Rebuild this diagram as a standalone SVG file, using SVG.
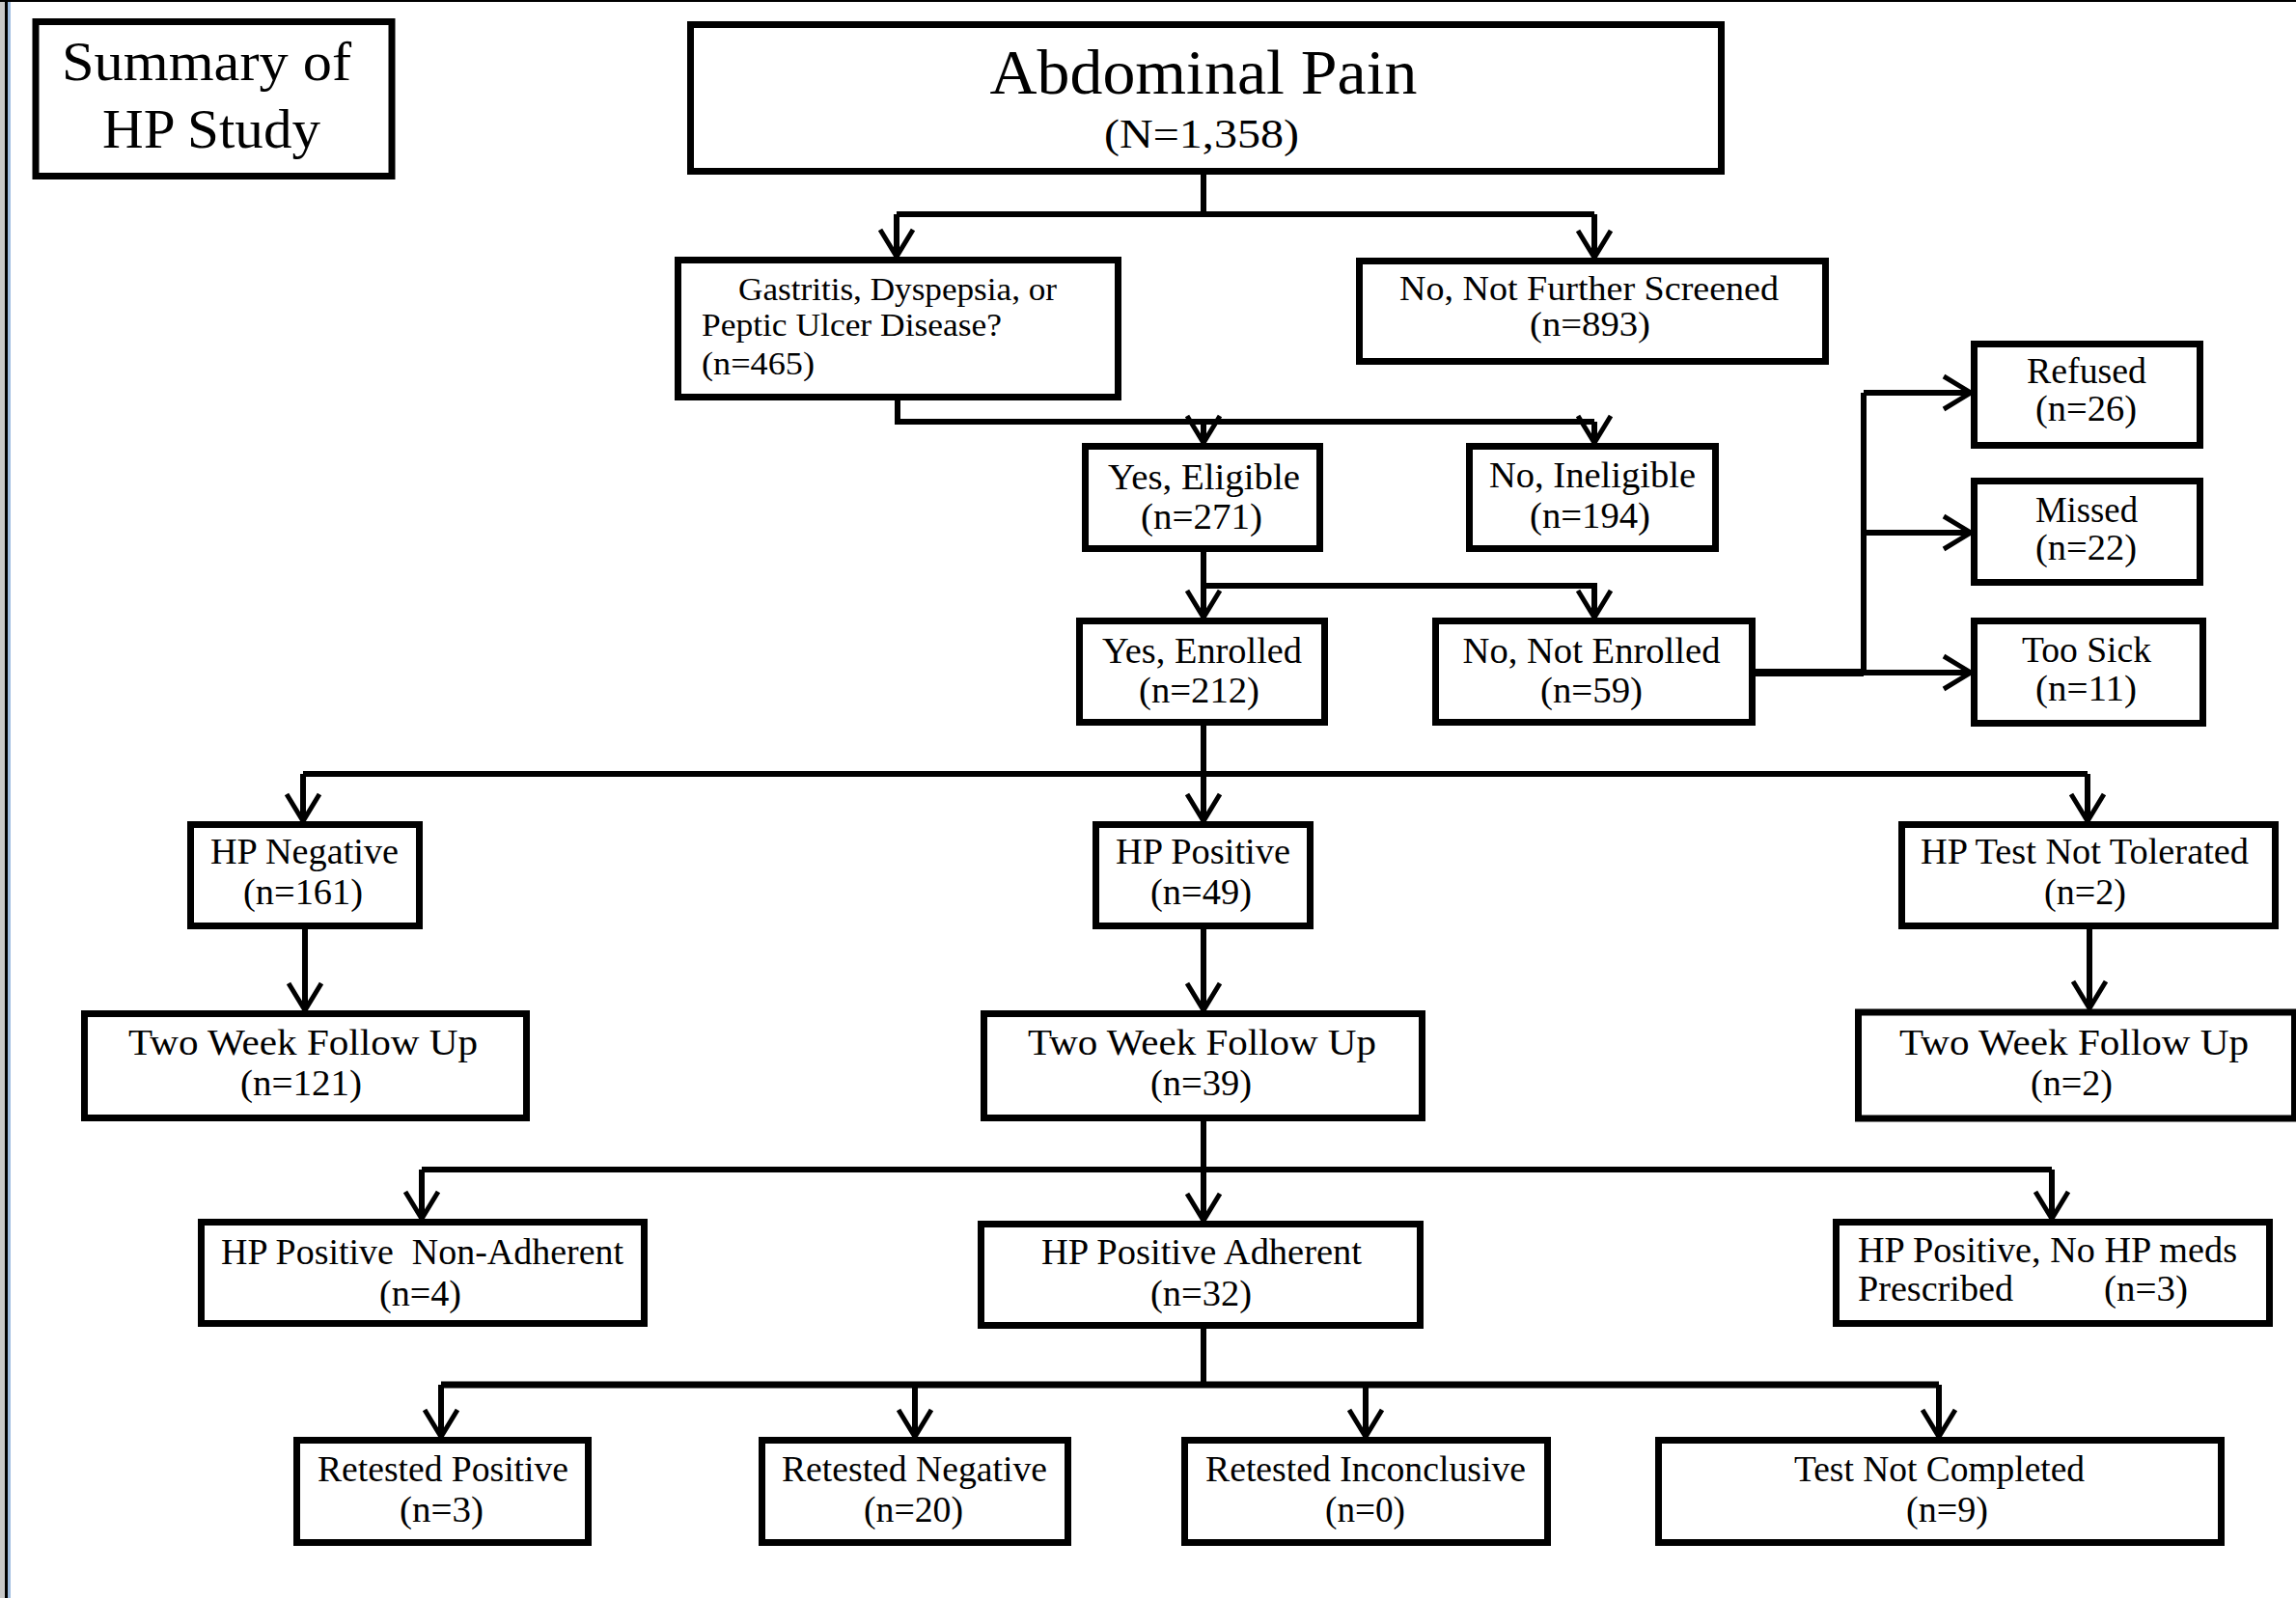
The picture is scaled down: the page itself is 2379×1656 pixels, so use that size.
<svg xmlns="http://www.w3.org/2000/svg" width="2379" height="1656" viewBox="0 0 2379 1656">
<style>
.box{fill:#fff;stroke:#000;stroke-width:7}
.t{font-family:"Liberation Serif","Times New Roman",serif;font-size:38px;fill:#000;text-anchor:middle}
.l{text-anchor:start}
.c{fill:none;stroke:#000;stroke-width:6}
.a{marker-end:url(#ah)}
</style>
<defs>
<marker id="ah" viewBox="-32 -20 36 40" refX="0" refY="0" markerWidth="36" markerHeight="40" markerUnits="userSpaceOnUse" orient="auto" overflow="visible">
<path d="M-28,-17 L0,0 L-28,17" fill="none" stroke="#000" stroke-width="5"/>
</marker>
</defs>
<rect x="0" y="0" width="2379" height="1656" fill="#fff"/>
<rect x="0" y="0" width="5" height="1656" fill="#c8c8c8"/>
<rect x="5" y="0" width="3" height="1656" fill="#000"/>
<rect x="8" y="0" width="3" height="1656" fill="#a0bde0"/>
<rect x="0" y="0" width="2379" height="2" fill="#000"/>

<g id="connectors">
<path class="c" d="M1247,181 V222 M929,222 H1652"/>
<path class="c a" d="M929,222 V266"/>
<path class="c a" d="M1652,222 V267"/>
<path class="c" d="M930,415 V437 H1652"/>
<path class="c a" d="M1247,437 V459"/>
<path class="c a" d="M1652,437 V459"/>
<path class="c a" d="M1247,572 V640"/>
<path class="c a" d="M1247,607 H1652 V640"/>
<path class="c" style="stroke-width:8" d="M1819,697 H1931"/>
<path class="c" d="M1931,407 V697"/>
<path class="c a" d="M1931,407 H2042"/>
<path class="c a" d="M1931,552 H2042"/>
<path class="c a" d="M1931,697 H2042"/>
<path class="c a" d="M1247,752 V851"/>
<path class="c" d="M314,802 H2163"/>
<path class="c a" d="M314,802 V851"/>
<path class="c a" d="M2163,802 V851"/>
<path class="c a" d="M316,963 V1047"/>
<path class="c a" d="M1247,963 V1047"/>
<path class="c a" d="M2165,963 V1045"/>
<path class="c a" d="M1247,1162 V1265"/>
<path class="c" d="M437,1212 H2126"/>
<path class="c a" d="M437,1212 V1263"/>
<path class="c a" d="M2126,1212 V1263"/>
<path class="c" d="M1247,1377 V1435"/>
<path class="c" style="stroke-width:7" d="M457,1435 H2009"/>
<path class="c a" d="M457,1435 V1489"/>
<path class="c a" d="M948,1435 V1489"/>
<path class="c a" d="M1415,1435 V1489"/>
<path class="c a" d="M2009,1435 V1489"/>
</g>

<g id="summary">
<rect class="box" x="37" y="22.5" width="369" height="160"/>
<text class="t" style="font-size:56px" x="214" y="83" textLength="300" lengthAdjust="spacingAndGlyphs">Summary of</text>
<text class="t" style="font-size:56px" x="219" y="153" textLength="226" lengthAdjust="spacingAndGlyphs">HP Study</text>
</g>
<g id="abdominal-pain">
<rect class="box" x="715.5" y="25.5" width="1068" height="152"/>
<text class="t" style="font-size:66px" x="1247" y="97" textLength="443" lengthAdjust="spacingAndGlyphs">Abdominal Pain</text>
<text class="t" style="font-size:42px" x="1245" y="153" textLength="202" lengthAdjust="spacingAndGlyphs">(N=1,358)</text>
</g>
<g id="gastritis">
<rect class="box" x="702.5" y="269.5" width="456" height="142"/>
<text class="t" style="font-size:33px" x="930" y="311" textLength="330" lengthAdjust="spacingAndGlyphs">Gastritis, Dyspepsia, or</text>
<text class="t" style="font-size:33px" x="882.5" y="348" textLength="311" lengthAdjust="spacingAndGlyphs">Peptic Ulcer Disease?</text>
<text class="t" style="font-size:33px" x="785.5" y="388" textLength="117" lengthAdjust="spacingAndGlyphs">(n=465)</text>
</g>
<g id="not-screened">
<rect class="box" x="1408.5" y="270.5" width="483" height="104"/>
<text class="t" style="font-size:35px" x="1646.5" y="311" textLength="393" lengthAdjust="spacingAndGlyphs">No, Not Further Screened</text>
<text class="t" style="font-size:35px" x="1647.5" y="348" textLength="125" lengthAdjust="spacingAndGlyphs">(n=893)</text>
</g>
<g id="eligible">
<rect class="box" x="1124.5" y="462.5" width="243" height="106"/>
<text class="t" x="1247.5" y="507" textLength="199" lengthAdjust="spacingAndGlyphs">Yes, Eligible</text>
<text class="t" x="1245" y="548" textLength="126" lengthAdjust="spacingAndGlyphs">(n=271)</text>
</g>
<g id="ineligible">
<rect class="box" x="1522.5" y="462.5" width="255" height="106"/>
<text class="t" x="1650" y="505" textLength="214" lengthAdjust="spacingAndGlyphs">No, Ineligible</text>
<text class="t" x="1647.5" y="547" textLength="125" lengthAdjust="spacingAndGlyphs">(n=194)</text>
</g>
<g id="enrolled">
<rect class="box" x="1118.5" y="643.5" width="254" height="105"/>
<text class="t" x="1245.5" y="687" textLength="207" lengthAdjust="spacingAndGlyphs">Yes, Enrolled</text>
<text class="t" x="1242.5" y="728" textLength="125" lengthAdjust="spacingAndGlyphs">(n=212)</text>
</g>
<g id="not-enrolled">
<rect class="box" x="1487.5" y="643.5" width="328" height="105"/>
<text class="t" x="1649" y="687" textLength="267" lengthAdjust="spacingAndGlyphs">No, Not Enrolled</text>
<text class="t" x="1649" y="728" textLength="106" lengthAdjust="spacingAndGlyphs">(n=59)</text>
</g>
<g id="refused">
<rect class="box" x="2045.5" y="356.5" width="234" height="105"/>
<text class="t" x="2162" y="397" textLength="124" lengthAdjust="spacingAndGlyphs">Refused</text>
<text class="t" x="2161.5" y="436" textLength="105" lengthAdjust="spacingAndGlyphs">(n=26)</text>
</g>
<g id="missed">
<rect class="box" x="2045.5" y="498.5" width="234" height="105"/>
<text class="t" x="2162" y="541" textLength="106" lengthAdjust="spacingAndGlyphs">Missed</text>
<text class="t" x="2161.5" y="580" textLength="105" lengthAdjust="spacingAndGlyphs">(n=22)</text>
</g>
<g id="too-sick">
<rect class="box" x="2045.5" y="643.5" width="237" height="106"/>
<text class="t" x="2162" y="686" textLength="134" lengthAdjust="spacingAndGlyphs">Too Sick</text>
<text class="t" x="2161.5" y="726" textLength="105" lengthAdjust="spacingAndGlyphs">(n=11)</text>
</g>
<g id="hp-negative">
<rect class="box" x="197.5" y="854.5" width="237" height="105"/>
<text class="t" x="315.5" y="895" textLength="195" lengthAdjust="spacingAndGlyphs">HP Negative</text>
<text class="t" x="314" y="937" textLength="124" lengthAdjust="spacingAndGlyphs">(n=161)</text>
</g>
<g id="hp-positive">
<rect class="box" x="1135.5" y="854.5" width="222" height="105"/>
<text class="t" x="1246.5" y="895" textLength="181" lengthAdjust="spacingAndGlyphs">HP Positive</text>
<text class="t" x="1244.5" y="937" textLength="105" lengthAdjust="spacingAndGlyphs">(n=49)</text>
</g>
<g id="hp-not-tolerated">
<rect class="box" x="1970.5" y="854.5" width="387" height="105"/>
<text class="t" x="2160" y="895" textLength="340" lengthAdjust="spacingAndGlyphs">HP Test Not Tolerated</text>
<text class="t" x="2160.5" y="937" textLength="85" lengthAdjust="spacingAndGlyphs">(n=2)</text>
</g>
<g id="followup-negative">
<rect class="box" x="87.5" y="1050.5" width="458" height="108"/>
<text class="t" x="314" y="1093" textLength="362" lengthAdjust="spacingAndGlyphs">Two Week Follow Up</text>
<text class="t" x="312" y="1135" textLength="126" lengthAdjust="spacingAndGlyphs">(n=121)</text>
</g>
<g id="followup-positive">
<rect class="box" x="1019.5" y="1050.5" width="454" height="108"/>
<text class="t" x="1245.5" y="1093" textLength="361" lengthAdjust="spacingAndGlyphs">Two Week Follow Up</text>
<text class="t" x="1244.5" y="1135" textLength="105" lengthAdjust="spacingAndGlyphs">(n=39)</text>
</g>
<g id="followup-not-tolerated">
<rect class="box" x="1925.5" y="1049" width="452" height="110"/>
<text class="t" x="2149" y="1093" textLength="362" lengthAdjust="spacingAndGlyphs">Two Week Follow Up</text>
<text class="t" x="2146.5" y="1135" textLength="85" lengthAdjust="spacingAndGlyphs">(n=2)</text>
</g>
<g id="non-adherent">
<rect class="box" x="208.5" y="1266.5" width="459" height="105"/>
<text class="t" x="437.5" y="1310" textLength="417" lengthAdjust="spacingAndGlyphs" xml:space="preserve">HP Positive  Non-Adherent</text>
<text class="t" x="435.5" y="1353" textLength="85" lengthAdjust="spacingAndGlyphs">(n=4)</text>
</g>
<g id="adherent">
<rect class="box" x="1016.5" y="1268.5" width="455" height="105"/>
<text class="t" x="1245" y="1310" textLength="332" lengthAdjust="spacingAndGlyphs">HP Positive Adherent</text>
<text class="t" x="1244.5" y="1353" textLength="105" lengthAdjust="spacingAndGlyphs">(n=32)</text>
</g>
<g id="no-meds">
<rect class="box" x="1902.5" y="1266.5" width="449" height="105"/>
<text class="t l" x="1925" y="1308" textLength="393" lengthAdjust="spacingAndGlyphs">HP Positive, No HP meds</text>
<text class="t l" x="1925" y="1348"><tspan textLength="161" lengthAdjust="spacingAndGlyphs">Prescribed</tspan> <tspan x="2180" textLength="87" lengthAdjust="spacingAndGlyphs">(n=3)</tspan></text>
</g>
<g id="retested-positive">
<rect class="box" x="307.5" y="1492.5" width="302" height="106"/>
<text class="t" x="459" y="1535" textLength="260" lengthAdjust="spacingAndGlyphs">Retested Positive</text>
<text class="t" x="457.5" y="1577" textLength="87" lengthAdjust="spacingAndGlyphs">(n=3)</text>
</g>
<g id="retested-negative">
<rect class="box" x="789.5" y="1492.5" width="317" height="106"/>
<text class="t" x="947.5" y="1535" textLength="275" lengthAdjust="spacingAndGlyphs">Retested Negative</text>
<text class="t" x="946.5" y="1577" textLength="103" lengthAdjust="spacingAndGlyphs">(n=20)</text>
</g>
<g id="retested-inconclusive">
<rect class="box" x="1227.5" y="1492.5" width="376" height="106"/>
<text class="t" x="1415" y="1535" textLength="332" lengthAdjust="spacingAndGlyphs">Retested Inconclusive</text>
<text class="t" x="1414.5" y="1577" textLength="83" lengthAdjust="spacingAndGlyphs">(n=0)</text>
</g>
<g id="test-not-completed">
<rect class="box" x="1718.5" y="1492.5" width="583" height="106"/>
<text class="t" x="2009.5" y="1535" textLength="301" lengthAdjust="spacingAndGlyphs">Test Not Completed</text>
<text class="t" x="2017.5" y="1577" textLength="85" lengthAdjust="spacingAndGlyphs">(n=9)</text>
</g>
</svg>
